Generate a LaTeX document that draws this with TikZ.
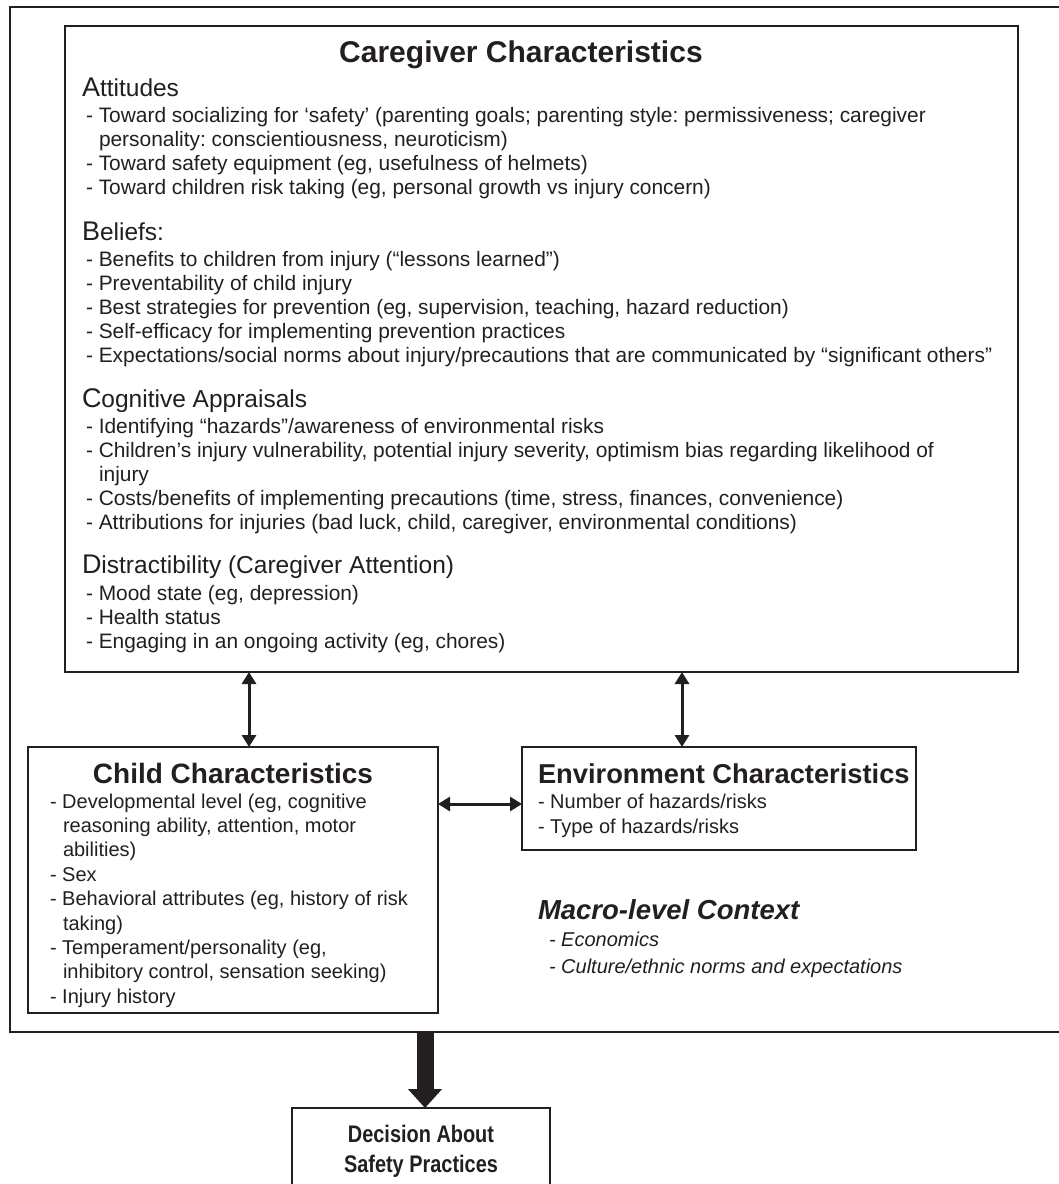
\documentclass[tikz,border=0pt]{standalone}
\usepackage{fontspec}
\setmainfont{Liberation Sans}
\newfontfamily\narrowfont[FakeStretch=0.83]{Liberation Sans}
\usetikzlibrary{arrows.meta}
\definecolor{ink}{RGB}{35,31,32}
\frenchspacing
\newcommand\Ln[4]{\node[txt] (#1) at (#2,#3) {#4};}
\newcommand\Lc[4]{\node[txt, font=\fontsize{20.9}{24}\selectfont] (#1) at (#2,#3) {#4};}
\newcommand\Hd[2]{{\fontsize{27}{27}\selectfont #1}{\fontsize{24.5}{27}\selectfont #2}}
\begin{document}
\begin{tikzpicture}[x=1pt,y=-1pt,
  box/.style={draw=ink, line width=2pt, inner sep=0pt, outer sep=0pt, fill=none},
  txt/.style={anchor=base west, inner sep=0pt, outer sep=0pt, text=ink, font=\fontsize{20}{24}\selectfont},
  ttl/.style={anchor=base, inner sep=0pt, outer sep=0pt, text=ink, font=\fontsize{28}{32}\selectfont\bfseries},
  dblarrow/.style={draw=ink, line width=3pt, {Triangle[length=12pt,width=14pt]}-{Triangle[length=12pt,width=14pt]}},
  bigarrow/.style={draw=ink, line width=17pt, -{Triangle[length=19pt,width=33pt]}}
]
\useasboundingbox (0,0) rectangle (1059,1184);
\clip (0,0) rectangle (1059,1184);
\fill[white] (0,0) rectangle (1059,1184);

% boxes
\node[box, minimum width=1060pt, minimum height=1025pt] (outer) at (540,519.5) {};
\node[box, minimum width=953pt, minimum height=646pt] (care) at (541.5,349) {};
\node[box, minimum width=410pt, minimum height=266pt] (child) at (233,880) {};
\node[box, minimum width=394pt, minimum height=103pt] (env) at (719,798.5) {};
\node[box, minimum width=258pt, minimum height=92pt] (dec) at (421,1154) {};

% caregiver text
\node[ttl, font=\fontsize{30}{34}\selectfont\bfseries] (caretitle) at (521,62) {Caregiver Characteristics};
\Ln{hA}{82}{96}{\Hd{A}{ttitudes}}
\Lc{a1}{86}{122}{- Toward socializing for ‘safety’ (parenting goals; parenting style: permissiveness; caregiver}
\Lc{a1b}{99}{146}{personality: conscientiousness, neuroticism)}
\Lc{a2}{86}{170}{- Toward safety equipment (eg, usefulness of helmets)}
\Lc{a3}{86}{194}{- Toward children risk taking (eg, personal growth vs injury concern)}
\Ln{hB}{82}{240}{\Hd{B}{eliefs:}}
\Lc{b1}{86}{266}{- Benefits to children from injury (“lessons learned”)}
\Lc{b2}{86}{290}{- Preventability of child injury}
\Lc{b3}{86}{314}{- Best strategies for prevention (eg, supervision, teaching, hazard reduction)}
\Lc{b4}{86}{338}{- Self-efficacy for implementing prevention practices}
\Lc{b5}{86}{362}{- Expectations/social norms about injury/precautions that are communicated by “significant others”}
\Ln{hC}{82}{407}{\Hd{C}{ognitive Appraisals}}
\Lc{c1}{86}{433}{- Identifying “hazards”/awareness of environmental risks}
\Lc{c2}{86}{457}{- Children’s injury vulnerability, potential injury severity, optimism bias regarding likelihood of}
\Lc{c2b}{99}{481}{injury}
\Lc{c3}{86}{505}{- Costs/benefits of implementing precautions (time, stress, finances, convenience)}
\Lc{c4}{86}{529}{- Attributions for injuries (bad luck, child, caregiver, environmental conditions)}
\Ln{hD}{82}{573}{\Hd{D}{istractibility (Caregiver Attention)}}
\Lc{d1}{86}{600}{- Mood state (eg, depression)}
\Lc{d2}{86}{624}{- Health status}
\Lc{d3}{86}{648}{- Engaging in an ongoing activity (eg, chores)}

% child text
\node[ttl] (childtitle) at (233,783) {Child Characteristics};
\Ln{k1}{50}{808}{- Developmental level (eg, cognitive}
\Ln{k1b}{63}{832.4}{reasoning ability, attention, motor}
\Ln{k1c}{63}{856.8}{abilities)}
\Ln{k2}{50}{881.2}{- Sex}
\Ln{k3}{50}{905.6}{- Behavioral attributes (eg, history of risk}
\Ln{k3b}{63}{930}{taking)}
\Ln{k4}{50}{954.4}{- Temperament/personality (eg,}
\Ln{k4b}{63}{978.8}{inhibitory control, sensation seeking)}
\Ln{k5}{50}{1003.2}{- Injury history}

% environment text
\node[ttl, anchor=base west, font=\fontsize{27.3}{32}\selectfont\bfseries] (envtitle) at (538,783) {Environment Characteristics};
\Ln{e1}{538}{808}{- Number of hazards/risks}
\Ln{e2}{538}{833}{- Type of hazards/risks}

% macro-level context
\node[txt, font=\fontsize{27.5}{32}\selectfont\bfseries\itshape] (macrotitle) at (538,919) {Macro-level Context};
\Ln{m1}{549}{946}{\itshape - Economics}
\Ln{m2}{549}{973}{\itshape - Culture/ethnic norms and expectations}

% decision text
\node[ttl, font=\fontsize{24}{30}\narrowfont\bfseries] (dec1) at (421,1142) {Decision About};
\node[ttl, font=\fontsize{24}{30}\narrowfont\bfseries] (dec2) at (421,1172) {Safety Practices};

% connectors
\coordinate (ax1) at (249,0);
\coordinate (ax2) at (682,0);
\coordinate (ay) at (0,804);
\coordinate (bx) at (425,0);
\draw[dblarrow] (ax1 |- care.south) -- (ax1 |- child.north);
\draw[dblarrow] (ax2 |- care.south) -- (ax2 |- env.north);
\draw[dblarrow] (child.east |- ay) -- (env.west |- ay);
\draw[bigarrow] (bx |- outer.south) -- (bx |- dec.north);
\end{tikzpicture}
\end{document}
